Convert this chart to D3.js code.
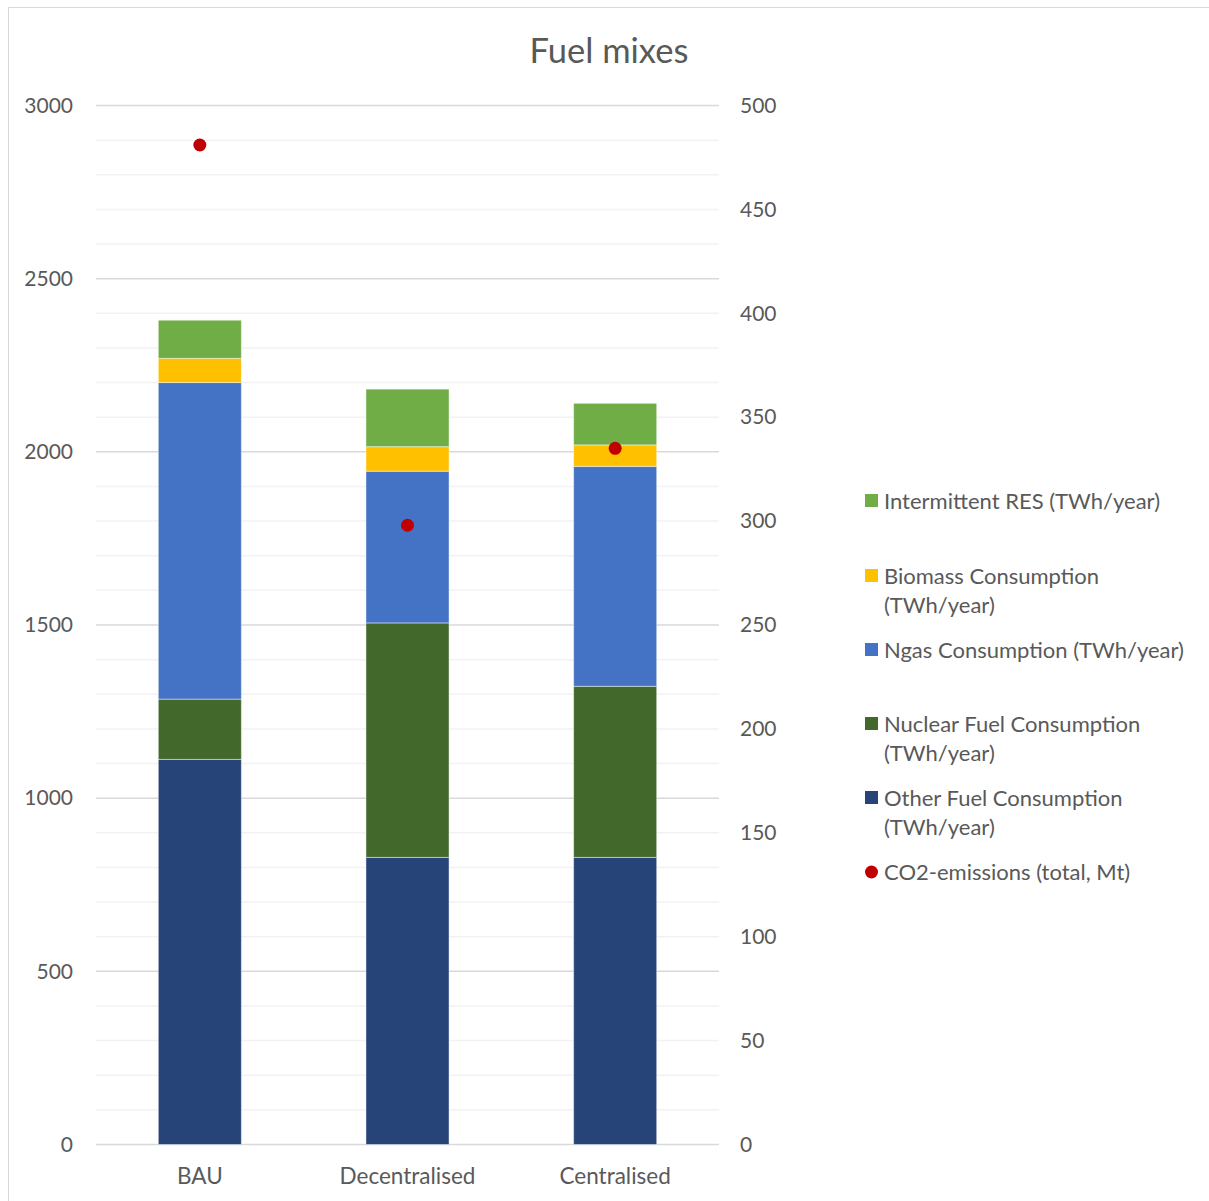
<!DOCTYPE html>
<html>
<head>
<meta charset="utf-8">
<script src="https://cdn.jsdelivr.net/npm/d3@7"></script>
<style>
  html, body { margin: 0; padding: 0; background: #fff; }
  svg { display: block; font-family: Lato, "Open Sans", sans-serif; }
</style>
</head>
<body>
<svg id="chart" width="1209" height="1201"></svg>
<script>
// Scenarios on the x axis
const categories = ["BAU", "Decentralised", "Centralised"];

// Stacked fuel consumption (TWh/year), bottom to top
const otherFuel   = [1112, 829, 829];
const nuclearFuel = [174, 677, 494];
const ngas        = [914, 438, 635];
const biomass     = [70, 71, 62];
const res         = [110, 166, 120];

// Total CO2 emissions (Mt), plotted on the right axis
const co2 = [481, 298, 335];

const leftTicks  = [0, 500, 1000, 1500, 2000, 2500, 3000];
const rightTicks = [0, 50, 100, 150, 200, 250, 300, 350, 400, 450, 500];

const seriesNames = [
  "Other Fuel Consumption (TWh/year)",
  "Nuclear Fuel Consumption (TWh/year)",
  "Ngas Consumption (TWh/year)",
  "Biomass Consumption (TWh/year)",
  "Intermittent RES (TWh/year)"
];
const seriesValues = [otherFuel, nuclearFuel, ngas, biomass, res];
const seriesColors = ["#264478", "#43682b", "#4472c4", "#ffc000", "#70ad47"];

const svg = d3.select("#chart");
const textColor = "#595959";
const fontFam = "Lato, 'Open Sans', sans-serif";

// outer chart frame
svg.append("rect")
  .attr("x", 8.5).attr("y", 7.5)
  .attr("width", 1210).attr("height", 1200)
  .attr("fill", "#fff").attr("stroke", "#d9d9d9");

const plot = { left: 96, right: 719, top: 105.5, bottom: 1144.5 };

const x = d3.scaleBand().domain(categories)
  .range([plot.left, plot.right]).paddingInner(0.6).paddingOuter(0.3);
const yL = d3.scaleLinear().domain([0, 3000]).range([plot.bottom, plot.top]);
const yR = d3.scaleLinear().domain([0, 500]).range([plot.bottom, plot.top]);

// minor gridlines every 100
const minor = d3.range(100, 3000, 100).filter(v => v % 500 !== 0);
svg.append("g").selectAll("line").data(minor).join("line")
  .attr("x1", plot.left).attr("x2", plot.right)
  .attr("y1", d => yL(d)).attr("y2", d => yL(d))
  .attr("stroke", "#f2f2f2").attr("stroke-width", 1.5);

// major gridlines every 500
svg.append("g").selectAll("line").data(leftTicks).join("line")
  .attr("x1", plot.left).attr("x2", plot.right)
  .attr("y1", d => yL(d)).attr("y2", d => yL(d))
  .attr("stroke", "#d9d9d9").attr("stroke-width", 1.5);

// stacked bars
const table = categories.map((c, i) => {
  const row = { cat: c };
  seriesNames.forEach((n, k) => row[n] = seriesValues[k][i]);
  return row;
});
const stacked = d3.stack().keys(seriesNames)(table);

svg.append("g").selectAll("g").data(stacked).join("g")
  .attr("fill", (d, i) => seriesColors[i])
  .selectAll("rect").data(d => d).join("rect")
  .attr("x", d => x(d.data.cat))
  .attr("width", x.bandwidth())
  .attr("y", d => yL(d[1]))
  .attr("height", d => yL(d[0]) - yL(d[1]))
  .attr("stroke", "rgba(255,255,255,0.45)").attr("stroke-width", 1);

// CO2 markers
svg.append("g").selectAll("circle").data(co2).join("circle")
  .attr("cx", (d, i) => x(categories[i]) + x.bandwidth() / 2)
  .attr("cy", d => yR(d))
  .attr("r", 6.5)
  .attr("fill", "#c00000");

// left axis
const axL = svg.append("g")
  .attr("transform", `translate(${plot.left - 23},0)`)
  .call(d3.axisLeft(yL).tickValues(leftTicks).tickFormat(d3.format("d"))
    .tickSize(0).tickPadding(0));
axL.select(".domain").remove();
axL.selectAll("text").attr("fill", textColor).attr("font-size", 21)
  .attr("font-family", fontFam);

// right axis
const axR = svg.append("g")
  .attr("transform", `translate(${plot.right + 21},0)`)
  .call(d3.axisRight(yR).tickValues(rightTicks).tickFormat(d3.format("d"))
    .tickSize(0).tickPadding(0));
axR.select(".domain").remove();
axR.selectAll("text").attr("fill", textColor).attr("font-size", 21)
  .attr("font-family", fontFam);

// category axis
const axB = svg.append("g")
  .attr("transform", `translate(0,${plot.bottom + 23})`)
  .call(d3.axisBottom(x).tickSize(0).tickPadding(0));
axB.select(".domain").remove();
axB.selectAll("text").attr("fill", textColor).attr("font-size", 22.5)
  .attr("dy", "0.75em")
  .attr("font-family", fontFam);

// title
svg.append("text")
  .attr("x", 609).attr("y", 63)
  .attr("text-anchor", "middle")
  .attr("font-size", 34.5)
  .attr("fill", textColor)
  .text("Fuel mixes");

// legend
const legendItems = [
  { lines: ["Intermittent RES (TWh/year)"], color: "#70ad47", y: 501, shape: "rect" },
  { lines: ["Biomass Consumption", "(TWh/year)"], color: "#ffc000", y: 576, shape: "rect" },
  { lines: ["Ngas Consumption (TWh/year)"], color: "#4472c4", y: 650, shape: "rect" },
  { lines: ["Nuclear Fuel Consumption", "(TWh/year)"], color: "#43682b", y: 724, shape: "rect" },
  { lines: ["Other Fuel Consumption", "(TWh/year)"], color: "#264478", y: 798, shape: "rect" },
  { lines: ["CO2-emissions (total, Mt)"], color: "#c00000", y: 872, shape: "circle" }
];
const lg = svg.append("g");
legendItems.forEach(it => {
  if (it.shape === "rect") {
    lg.append("rect").attr("x", 865).attr("y", it.y - 7)
      .attr("width", 13).attr("height", 13).attr("fill", it.color);
  } else {
    lg.append("circle").attr("cx", 871.5).attr("cy", it.y).attr("r", 6.5)
      .attr("fill", it.color);
  }
  it.lines.forEach((ln, j) => {
    lg.append("text")
      .attr("x", 884).attr("y", it.y + j * 29)
      .attr("dy", "0.35em")
      .attr("font-size", 22)
      .attr("fill", textColor)
      .text(ln);
  });
});
</script>
</body>
</html>
